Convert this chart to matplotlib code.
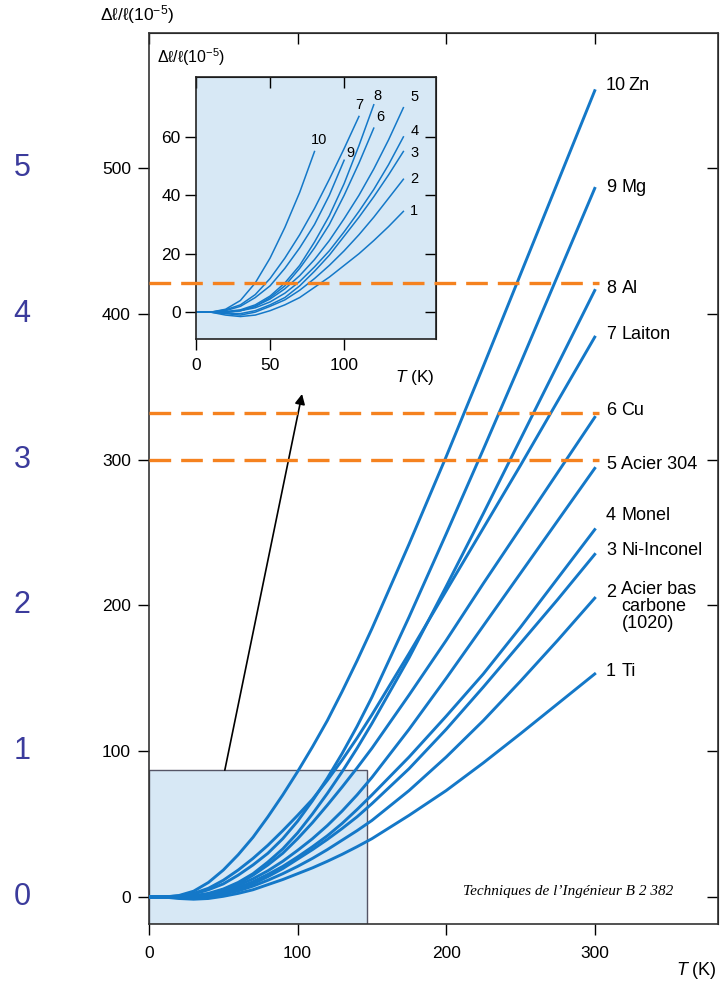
import matplotlib
matplotlib.use('Agg')
import matplotlib.pyplot as plt
from matplotlib.patches import Rectangle
from matplotlib.transforms import blended_transform_factory

plt.rcParams['font.family'] = ['Liberation Sans', 'DejaVu Sans']
plt.rcParams['mathtext.fontset'] = 'custom'
plt.rcParams['mathtext.rm'] = 'Liberation Sans'
plt.rcParams['mathtext.it'] = 'Liberation Sans:italic'

# temperature grid (K) and dl/l values (1e-5)
temps = [0, 10, 20, 30, 40, 50, 60, 70, 80, 90, 100, 110, 120, 130, 140, 150,
         175, 200, 225, 250, 275, 300]
ti = [0, 0, -1, -1.5, -1, 0.5, 2.5, 5, 8.5, 12, 16, 20, 24.5, 29.3, 34.5, 40,
      56, 73, 92, 112, 132.5, 153]
acier_1020 = [0, 0, -0.5, -1, 0, 2, 4.2, 7.5, 11.5, 16, 21, 26.5, 32.5, 39, 45.5, 52.5,
              73, 96, 121, 148, 176, 205]
ni_inconel = [0, 0, -0.3, -0.5, 0.5, 2.5, 5, 9, 14, 19.5, 26, 32.5, 39.5, 47, 55, 64,
              88, 115, 144, 174, 204, 235]
monel = [0, 0, 0, 0.5, 1.5, 3.5, 6.5, 10.5, 15.5, 21, 27.5, 34.5, 42, 50.5, 60, 70,
         96, 124, 153, 185, 218.5, 252]
acier_304 = [0, 0, 0, 0.5, 2, 4.5, 8, 12.5, 18, 24.5, 32, 40, 49, 59, 70, 82,
             115, 150, 186, 222, 258, 294]
cu = [0, 0, 0, 0.5, 2, 5, 9, 15, 22, 30, 40, 51, 63, 75.5, 88.5, 102,
      138.5, 176, 215, 253, 291, 329]
laiton = [0, 0, 0.8, 2.5, 6, 11.5, 18.5, 26.5, 35.5, 45.5, 56, 67, 80, 94, 109, 125,
          167, 210, 253, 296, 340, 384]
al = [0, 0, 0.2, 0.8, 2.5, 5.5, 10, 16, 24, 33, 44, 57, 71, 86, 102, 119,
      164, 213, 263, 314, 365, 416]
mg = [0, 0, 0.5, 2, 5, 9, 15, 22, 30, 40, 52, 66, 81.5, 98.5, 117, 137,
      192, 249, 307, 366, 426, 486]
zn = [0, 0, 1, 4, 10, 18.5, 29, 41, 55, 70, 86, 103, 121, 141, 162, 184,
      242, 302, 364, 427, 490, 553]

curves = [ti, acier_1020, ni_inconel, monel, acier_304, cu, laiton, al, mg, zn]
names = ['Ti', 'Acier bas\ncarbone\n(1020)', 'Ni-Inconel', 'Monel', 'Acier 304',
         'Cu', 'Laiton', 'Al', 'Mg', 'Zn']
label_shift = [3, 5.5, 4, 11, 4, 6, 3, 3, 2, 5]
inset_end = [140, 140, 140, 140, 140, 120, 110, 120, 100, 80]
inset_dx = [7.3, 7.3, 7.3, 7.3, 7.5, 4.3, 0.4, 2.5, 4, 3.3]
inset_dy = [0.2, 0, -0.4, 2, 3.7, 3.9, 4, 3, 2.5, 3.9]
orange_levels = [421, 332, 300]
left_marks = ['0', '1', '2', '3', '4', '5']

blue = '#1478c8'
light = '#d7e8f5'
orange = '#f5821f'
ylo, yhi = -18.5, 592.6

fig = plt.figure(figsize=(7.21, 9.81), dpi=100)
ax = fig.add_axes([0.2067, 0.0581, 0.7892, 0.9083])
ax.set_xlim(0, 383)
ax.set_ylim(ylo, yhi)
for s in ax.spines.values():
    s.set_linewidth(1.2)
    s.set_color('#333333')
ax.set_xticks([0, 100, 200, 300])
ax.set_yticks([0, 100, 200, 300, 400, 500])
ax.tick_params(axis='x', direction='out', length=8, width=1, labelsize=12.5, pad=8)
ax.tick_params(axis='y', direction='out', length=8, width=1, labelsize=12.5, pad=5)
sx = ax.secondary_xaxis('top')
sx.set_xticks([0, 100, 200, 300])
sx.tick_params(direction='in', length=8, width=1, labeltop=False)
sy = ax.secondary_yaxis('right')
sy.set_yticks([0, 100, 200, 300, 400, 500])
sy.tick_params(direction='in', length=8, width=1, labelright=False)

ax.add_patch(Rectangle((0, ylo), 147, 87 - ylo, facecolor=light,
                       edgecolor='#555566', lw=1, zorder=1))
for vals in curves:
    ax.plot(temps, vals, color=blue, lw=2.1, zorder=3)

for i, (name, vals) in enumerate(zip(names, curves)):
    y = vals[-1] + label_shift[i]
    ax.text(307.5, y, str(i + 1), fontsize=13, ha='left', va='center_baseline')
    nx = 322.5 if i == 9 else 318
    if '\n' in name:
        ax.text(nx, y + 6, name, fontsize=13, ha='left', va='top', linespacing=1.0)
    else:
        ax.text(nx, y, name, fontsize=13, ha='left', va='center_baseline')

ax.annotate('', xy=(103, 345), xytext=(51, 87),
            arrowprops=dict(arrowstyle='-|>', color='black', lw=1.2,
                            mutation_scale=15, shrinkA=0, shrinkB=0), zorder=4)

ax.text(282, 4, 'Techniques de l\u2019Ing\u00e9nieur B 2 382', fontsize=11,
        family='Liberation Serif', style='italic', ha='center', va='center')

trans = blended_transform_factory(fig.transFigure, ax.transData)
for k, m in enumerate(left_marks):
    fig.text(0.0305, k * 100, m, transform=trans, fontsize=22, color='#3b3b9c',
             ha='center', va='center')

fig.text(0.1387, 0.9847, 'Δℓ/ℓ(10$^{-5}$)', fontsize=12.5, ha='left', va='center')
fig.text(0.938, 0.0112, '$T$ (K)', fontsize=13, ha='left', va='center')

# inset
axin = fig.add_axes([0.2718, 0.6544, 0.3329, 0.2671])
axin.set_facecolor(light)
axin.set_xlim(0, 162)
axin.set_ylim(-9.2, 80.5)
for s in axin.spines.values():
    s.set_linewidth(1.2)
    s.set_color('#222222')
axin.set_xticks([0, 50, 100])
axin.set_yticks([0, 20, 40, 60])
axin.tick_params(direction='out', length=8, width=1, labelsize=12.5)
axin.tick_params(axis='x', pad=6)
axin.tick_params(axis='y', pad=3)
isx = axin.secondary_xaxis('top')
isx.set_xticks([0, 50, 100])
isx.tick_params(direction='in', length=8, width=1, labeltop=False)
isy = axin.secondary_yaxis('right')
isy.set_yticks([0, 20, 40, 60])
isy.tick_params(direction='in', length=8, width=1, labelright=False)
for i, (vals, end) in enumerate(zip(curves, inset_end)):
    n = temps.index(end) + 1
    axin.plot(temps[:n], vals[:n], color=blue, lw=1.1)
    axin.text(end + inset_dx[i], vals[n - 1] + inset_dy[i], str(i + 1),
              fontsize=10.5, ha='center', va='center')

fig.text(0.2178, 0.9419, 'Δℓ/ℓ(10$^{-5}$)', fontsize=11.5, ha='left', va='center')
fig.text(0.5479, 0.6147, '$T$ (K)', fontsize=12.5, ha='left', va='center')

# orange dashed levels drawn above everything
atop = fig.add_axes([0.2067, 0.0581, 0.7892, 0.9083], zorder=10)
atop.set_xlim(0, 383)
atop.set_ylim(ylo, yhi)
atop.axis('off')
atop.hlines(orange_levels, 0, 303, color=orange, lw=2.4, linestyles=(0, (6.5, 3)))

fig.savefig('out.png', dpi=100)
